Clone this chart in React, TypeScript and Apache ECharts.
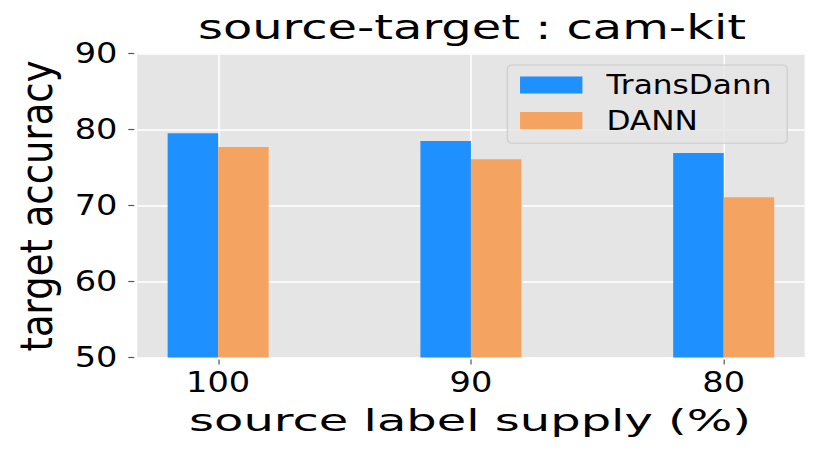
import React, { useEffect, useRef } from 'react';
import * as echarts from 'echarts';

const categories = ['100', '90', '80'];
const seriesNames = ['TransDann', 'DANN'];
const transDannValues = [79.5, 78.5, 76.9];
const dannValues = [77.7, 76.1, 71.1];
const yMin = 50;
const yMax = 90;
const yStep = 10;
const titleText = 'source-target : cam-kit';
const xAxisName = 'source label supply (%)';
const yAxisName = 'target accuracy';

const STRETCH = 1.2;
const W = 831 / STRETCH;
const H = 456;
const FONT = '"DejaVu Sans", Verdana, sans-serif';

export default function App() {
  const ref = useRef<HTMLDivElement>(null);

  useEffect(() => {
    if (!ref.current) return;
    const chart = echarts.init(ref.current, undefined, { renderer: 'svg' });
    const tickIdx = categories.map((_, i) => i);
    const option: any = {
      animation: false,
      textStyle: { fontFamily: FONT },
      grid: {
        left: 114.4,
        right: W - 670,
        top: 53.5,
        bottom: 98.5,
        show: true,
        backgroundColor: '#E5E5E5',
        borderWidth: 0,
      },
      xAxis: {
        type: 'value',
        min: -0.32,
        max: 2.32,
        offset: 2,
        axisLine: { show: false, onZero: false },
        axisTick: {
          show: true,
          length: 5,
          customValues: tickIdx,
          lineStyle: { color: '#555555', width: 1 },
        },
        axisLabel: {
          customValues: tickIdx,
          formatter: (v: number) => categories[Math.round(v)] ?? '',
          fontSize: 28,
          color: '#000',
          margin: 9,
          fontFamily: FONT,
        },
        splitLine: { show: true, lineStyle: { color: '#FFFFFF', width: 1.25 } },
      },
      yAxis: {
        type: 'value',
        min: yMin,
        max: yMax,
        interval: yStep,
        offset: 2.5,
        axisLine: { show: false, onZero: false },
        axisTick: { show: true, length: 5, lineStyle: { color: '#555555', width: 1.2 } },
        axisLabel: { fontSize: 28, color: '#000', margin: 14, fontFamily: FONT },
        splitLine: { show: true, lineStyle: { color: '#FFFFFF', width: 1.5 } },
      },
      legend: {
        orient: 'vertical',
        left: 422.75,
        top: 65,
        icon: 'rect',
        itemWidth: 52,
        itemHeight: 17,
        itemGap: 9.5,
        padding: [7, 13, 9.8, 10.6],
        backgroundColor: 'rgba(229,229,229,0.8)',
        borderColor: '#CCCCCC',
        borderWidth: 1,
        borderRadius: 4,
        textStyle: { fontSize: 26, color: '#000', fontFamily: FONT, padding: [0, 0, 0, 15] },
        data: seriesNames,
      },
      graphic: [
        {
          type: 'text',
          x: 393.3,
          y: 27.6,
          scaleX: 1.21,
          style: {
            text: titleText,
            font: `33px ${FONT}`,
            fill: '#000',
            textAlign: 'center',
            align: 'center',
            textVerticalAlign: 'middle',
            verticalAlign: 'middle',
          },
        },
        {
          type: 'text',
          x: 391.7,
          y: 421,
          scaleX: 1.29,
          style: {
            text: xAxisName,
            font: `31px ${FONT}`,
            fill: '#000',
            textAlign: 'center',
            align: 'center',
            textVerticalAlign: 'middle',
            verticalAlign: 'middle',
          },
        },
        {
          type: 'text',
          x: 30.3,
          y: 206,
          rotation: Math.PI / 2,
          style: {
            text: yAxisName,
            font: `37px ${FONT}`,
            fill: '#000',
            textAlign: 'center',
            align: 'center',
            textVerticalAlign: 'middle',
            verticalAlign: 'middle',
          },
        },
      ],
      series: [
        {
          type: 'bar',
          name: seriesNames[0],
          data: transDannValues.map((v, i) => [i, v]),
          barWidth: 42.1,
          barGap: '0%',
          itemStyle: { color: '#1E90FF' },
        },
        {
          type: 'bar',
          name: seriesNames[1],
          data: dannValues.map((v, i) => [i, v]),
          barWidth: 42.1,
          barGap: '0%',
          itemStyle: { color: '#F4A460' },
        },
      ],
    };
    chart.setOption(option);
    return () => chart.dispose();
  }, []);

  return (
    <div
      style={{
        position: 'fixed',
        left: 0,
        top: 0,
        width: 831,
        height: H,
        overflow: 'hidden',
        background: '#fff',
      }}
    >
      <div
        ref={ref}
        style={{
          width: W,
          height: H,
          transform: `scaleX(${STRETCH})`,
          transformOrigin: '0 0',
        }}
      />
    </div>
  );
}
